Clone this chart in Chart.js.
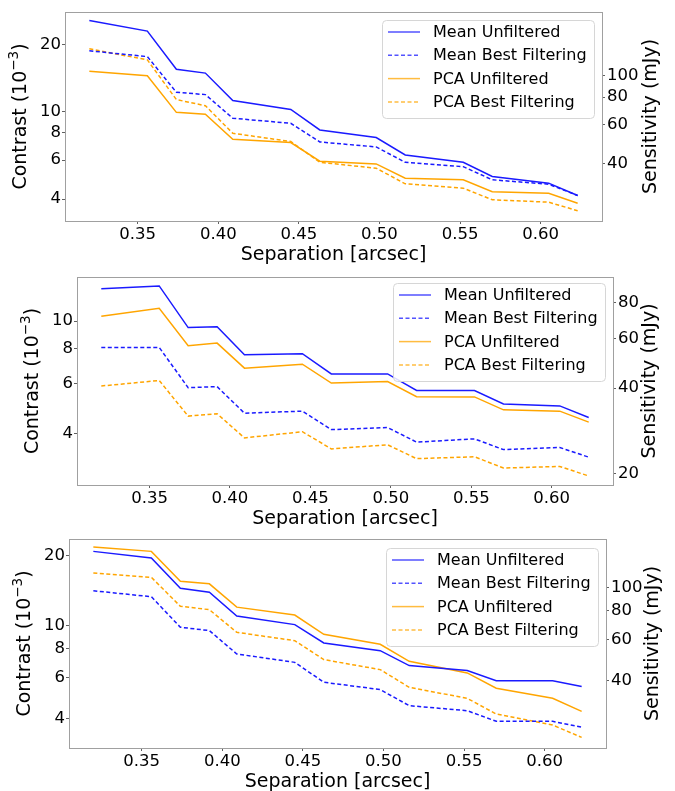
<!DOCTYPE html>
<html>
<head>
<meta charset="utf-8">
<script src="https://cdn.jsdelivr.net/npm/chart.js@4.4.1/dist/chart.umd.min.js"></script>
<style>
  html, body { margin: 0; padding: 0; background: #fff; }
  body { width: 675px; height: 791px; position: relative; overflow: hidden; }
  canvas { position: absolute; left: 0; }
</style>
</head>
<body>
<canvas id="panelA" width="675" height="265" style="top:0px"></canvas>
<canvas id="panelB" width="675" height="265" style="top:265px"></canvas>
<canvas id="panelC" width="675" height="264" style="top:527px"></canvas>
<script>
// Angular separations of the sampled annuli (arcsec)
const separation = [0.320, 0.356, 0.374, 0.392, 0.409, 0.445, 0.463, 0.498, 0.516, 0.552, 0.570, 0.605, 0.623];

// Contrast curves, in units of 1e-3
// Panel A
const meanUnfilteredA = [25.8, 23.1, 15.5, 14.9, 11.2, 10.2, 8.23, 7.60, 6.34, 5.87, 5.06, 4.72, 4.15];
const meanBestA       = [18.8, 17.7, 12.2, 11.9, 9.30, 8.82, 7.26, 6.89, 5.87, 5.61, 4.89, 4.67, 4.15];
const pcaUnfilteredA  = [15.2, 14.5, 9.89, 9.69, 7.47, 7.21, 5.94, 5.77, 4.97, 4.89, 4.32, 4.25, 3.83];
const pcaBestA        = [19.2, 17.1, 11.3, 10.6, 7.95, 7.29, 5.87, 5.52, 4.69, 4.48, 3.97, 3.87, 3.54];
// Panel B
const meanUnfilteredB = [13.0, 13.3, 9.48, 9.55, 7.61, 7.67, 6.51, 6.51, 5.69, 5.69, 5.10, 5.02, 4.57];
const meanBestB       = [8.07, 8.07, 5.82, 5.87, 4.73, 4.81, 4.14, 4.21, 3.74, 3.84, 3.52, 3.58, 3.31];
const pcaUnfilteredB  = [10.4, 11.1, 8.18, 8.36, 6.82, 7.04, 6.04, 6.12, 5.41, 5.40, 4.86, 4.81, 4.40];
const pcaBestB        = [5.90, 6.17, 4.62, 4.71, 3.87, 4.07, 3.54, 3.66, 3.27, 3.32, 3.03, 3.07, 2.84];
// Panel C
const meanUnfilteredC = [20.8, 19.5, 14.45, 13.9, 11.0, 10.1, 8.43, 7.81, 6.74, 6.42, 5.81, 5.81, 5.48];
const meanBestC       = [14.1, 13.3, 9.84, 9.52, 7.56, 6.96, 5.72, 5.32, 4.54, 4.32, 3.89, 3.89, 3.67];
const pcaUnfilteredC  = [21.7, 20.8, 15.5, 15.1, 12.0, 11.1, 9.18, 8.32, 7.03, 6.27, 5.39, 4.88, 4.29];
const pcaBestC        = [16.8, 16.1, 12.1, 11.7, 9.36, 8.62, 7.15, 6.48, 5.44, 4.88, 4.18, 3.75, 3.32];

// Contrast (1e-3) to flux sensitivity (mJy)
const mJyPerContrast = 6.9;

// Tick labels
const sepTicks = [0.35, 0.40, 0.45, 0.50, 0.55, 0.60];
const contrastTicksA = [4, 6, 8, 10, 20];
const contrastTicksB = [4, 6, 8, 10];
const contrastTicksC = [4, 6, 8, 10, 20];
const sensTicksA = [40, 60, 80, 100];
const sensTicksB = [20, 40, 60, 80];
const sensTicksC = [40, 60, 80, 100];

const seriesLabels = ['Mean Unfiltered', 'Mean Best Filtering', 'PCA Unfiltered', 'PCA Best Filtering'];

const FONT = "'DejaVu Sans', sans-serif";
const BLUE = '#1a1aff';
const ORANGE = '#ffa500';
const DASH = [4, 2.5];
const FRAME = '#a0a0a0';
const TICKMARK = '#606060';

// Vertical axis title reading bottom to top, with an optional superscript part
function drawVerticalTitle(ctx, cx, cy, parts) {
  ctx.save();
  ctx.fillStyle = '#000';
  ctx.textBaseline = 'middle';
  ctx.textAlign = 'left';
  ctx.translate(cx, cy);
  ctx.rotate(-Math.PI / 2);
  const widths = parts.map(p => { ctx.font = `${p.size}px ${FONT}`; return ctx.measureText(p.text).width; });
  let x = -widths.reduce((a, b) => a + b, 0) / 2;
  parts.forEach((p, i) => {
    ctx.font = `${p.size}px ${FONT}`;
    ctx.fillText(p.text, x, -(p.raise || 0));
    x += widths[i];
  });
  ctx.restore();
}

// Frame around the plotting area, axis titles on the sides and the legend box
const decorPlugin = {
  id: 'decor',
  afterDatasetsDraw(chart) {
    const { ctx, chartArea: a } = chart;
    ctx.save();
    ctx.strokeStyle = FRAME;
    ctx.lineWidth = 1;
    ctx.strokeRect(Math.round(a.left) + 0.5, Math.round(a.top) + 0.5,
                   Math.round(a.right - a.left), Math.round(a.bottom - a.top));
    ctx.restore();
  },
  afterDraw(chart, args, opts) {
    const { ctx, chartArea: a } = chart;
    const cy = (a.top + a.bottom) / 2;
    drawVerticalTitle(ctx, a.left - 44, cy, [
      { text: 'Contrast (10', size: 19 },
      { text: '\u22123', size: 13.5, raise: 7 },
      { text: ')', size: 19 }
    ]);
    drawVerticalTitle(ctx, a.right + opts.rightTitleOffset, cy, [
      { text: 'Sensitivity (mJy)', size: 19 }
    ]);

    // legend
    const w = 212, h = 98;
    const x0 = a.right - 8 - w, y0 = a.top + opts.legendTop;
    ctx.save();
    ctx.globalAlpha = 0.85;
    ctx.fillStyle = '#fff';
    ctx.beginPath();
    ctx.roundRect(x0 + 0.5, y0 + 0.5, w, h, 4);
    ctx.fill();
    ctx.globalAlpha = 1;
    ctx.strokeStyle = '#d6d6d6';
    ctx.lineWidth = 1;
    ctx.stroke();
    ctx.font = `16px ${FONT}`;
    ctx.textBaseline = 'middle';
    ctx.textAlign = 'left';
    chart.data.datasets.forEach((ds, i) => {
      const ly = y0 + 12 + i * 23.3;
      ctx.strokeStyle = ds.borderColor;
      ctx.globalAlpha = 0.75;
      ctx.lineWidth = 1.5;
      ctx.setLineDash(ds.borderDash || []);
      ctx.beginPath();
      ctx.moveTo(x0 + 6, ly);
      ctx.lineTo(x0 + 38, ly);
      ctx.stroke();
      ctx.setLineDash([]);
      ctx.globalAlpha = 1;
      ctx.fillStyle = '#000';
      ctx.fillText(ds.label, x0 + 51, ly + 1);
    });
    ctx.restore();
  }
};

function makeSeries(values, color, dashed, label) {
  return {
    label,
    data: separation.map((s, i) => ({ x: s, y: values[i] })),
    borderColor: color,
    borderWidth: 1.5,
    borderDash: dashed ? DASH : [],
    pointRadius: 0,
    tension: 0,
    fill: false
  };
}

function buildPanel(id, cfg) {
  const canvas = document.getElementById(id);
  const H = canvas.height;
  const ticksFont = { family: FONT, size: 16.5 };
  return new Chart(canvas, {
    type: 'line',
    data: {
      datasets: [
        makeSeries(cfg.meanUnf, BLUE, false, seriesLabels[0]),
        makeSeries(cfg.meanBest, BLUE, true, seriesLabels[1]),
        makeSeries(cfg.pcaUnf, ORANGE, false, seriesLabels[2]),
        makeSeries(cfg.pcaBest, ORANGE, true, seriesLabels[3])
      ]
    },
    options: {
      responsive: false,
      animation: false,
      devicePixelRatio: 1,
      layout: { padding: { top: cfg.top, left: 0, right: 0, bottom: 0 } },
      plugins: {
        legend: { display: false },
        tooltip: { enabled: false },
        decor: { rightTitleOffset: cfg.rightTitleOffset, legendTop: cfg.legendTop }
      },
      scales: {
        x: {
          type: 'linear',
          min: 0.3049, max: 0.6381,
          afterBuildTicks: s => { s.ticks = sepTicks.map(v => ({ value: v })); },
          afterFit: s => { s.height = H - cfg.bottom; },
          ticks: { font: ticksFont, color: '#000', padding: 1, maxRotation: 0,
                   callback: v => v.toFixed(2) },
          grid: { drawOnChartArea: false, drawTicks: true, tickLength: 3, color: TICKMARK },
          border: { display: false },
          title: { display: true, text: 'Separation [arcsec]', color: '#000',
                   font: { family: FONT, size: 19, lineHeight: 1 },
                   padding: { top: 0, bottom: H - cfg.bottom - 34 - 9.5 } }
        },
        y: {
          type: 'logarithmic',
          position: 'left',
          min: cfg.yMin, max: cfg.yMax,
          afterBuildTicks: s => { s.ticks = cfg.leftTicks.map(v => ({ value: v })); },
          afterFit: s => { s.width = cfg.left; },
          ticks: { font: ticksFont, color: '#000', padding: 1, callback: v => String(v) },
          grid: { drawOnChartArea: false, drawTicks: true, tickLength: 3, color: TICKMARK },
          border: { display: false }
        },
        ySens: {
          type: 'logarithmic',
          position: 'right',
          min: cfg.yMin * mJyPerContrast, max: cfg.yMax * mJyPerContrast,
          afterBuildTicks: s => { s.ticks = cfg.rightTicks.map(v => ({ value: v })); },
          afterFit: s => { s.width = 675 - cfg.right; },
          ticks: { font: ticksFont, color: '#000', padding: 2, callback: v => String(v) },
          grid: { drawOnChartArea: false, drawTicks: true, tickLength: 3, color: TICKMARK },
          border: { display: false }
        }
      }
    },
    plugins: [decorPlugin]
  });
}

buildPanel('panelA', {
  meanUnf: meanUnfilteredA, meanBest: meanBestA, pcaUnf: pcaUnfilteredA, pcaBest: pcaBestA,
  yMin: 3.18, yMax: 28.2, leftTicks: contrastTicksA, rightTicks: sensTicksA,
  top: 12, bottom: 221, left: 65, right: 602, rightTitleOffset: 49, legendTop: 8
});
buildPanel('panelB', {
  meanUnf: meanUnfilteredB, meanBest: meanBestB, pcaUnf: pcaUnfilteredB, pcaBest: pcaBestB,
  yMin: 2.64, yMax: 14.3, leftTicks: contrastTicksB, rightTicks: sensTicksB,
  top: 12, bottom: 220, left: 77, right: 613, rightTitleOffset: 37, legendTop: 6
});
buildPanel('panelC', {
  meanUnf: meanUnfilteredC, meanBest: meanBestC, pcaUnf: pcaUnfilteredC, pcaBest: pcaBestC,
  yMin: 2.99, yMax: 23.5, leftTicks: contrastTicksC, rightTicks: sensTicksC,
  top: 12, bottom: 221, left: 69, right: 606, rightTitleOffset: 47, legendTop: 9
});
</script>
</body>
</html>
